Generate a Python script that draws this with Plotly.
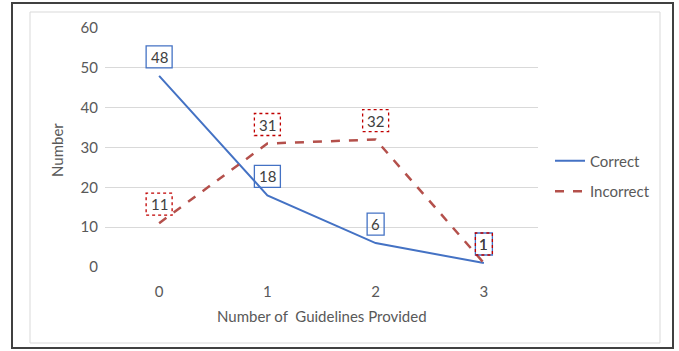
import plotly.graph_objects as go

categories = ["0", "1", "2", "3"]
correct = [48, 18, 6, 1]
incorrect = [11, 31, 32, 1]
y_ticks = [0, 10, 20, 30, 40, 50, 60]

FONT = "Lato, Carlito, Calibri, sans-serif"
GREY = "#595959"
BLUE = "#4472C4"
RED = "#B4504B"
BOXRED = "#C00000"

L, R, T, B = 105, 141, 28, 84
W, H = 679, 351
PW, PH = W - L - R, H - T - B

def px_x(p):
    return (p - L) / PW

def px_y(p):
    return (H - B - p) / PH

fig = go.Figure()
fig.add_trace(go.Scatter(x=categories, y=correct, mode="lines", name="Correct",
                         legendgroup="c", line=dict(color=BLUE, width=2)))
fig.add_trace(go.Scatter(x=categories, y=incorrect, mode="lines", name="Incorrect",
                         legendgroup="i", line=dict(color=RED, width=2.5, dash="dash")))

shapes = []
annotations = []
for series, bcol, dash in [(correct, BLUE, "solid"), (incorrect, BOXRED, "dot")]:
    for c, v in zip(categories, series):
        txt = str(v)
        w = 26 if len(txt) > 1 else 17
        annotations.append(dict(x=c, y=v, xref="x", yref="y", text=txt, showarrow=False,
                                xanchor="center", yanchor="middle",
                                yshift=19, font=dict(family=FONT, size=15, color="#404040")))
        shapes.append(dict(type="rect", xref="x", yref="y", xsizemode="pixel", ysizemode="pixel",
                           xanchor=c, yanchor=v, x0=-w / 2, x1=w / 2, y0=8, y1=30,
                           line=dict(color=bcol, width=1.3, dash=dash), fillcolor="rgba(0,0,0,0)",
                           layer="above"))

# chart area borders
shapes.append(dict(type="rect", xref="paper", yref="paper", x0=px_x(30), x1=px_x(660),
                   y0=px_y(343), y1=px_y(12), line=dict(color="#D9D9D9", width=1), layer="below"))
shapes.append(dict(type="rect", xref="paper", yref="paper", x0=px_x(12), x1=px_x(673),
                   y0=px_y(348), y1=px_y(3), line=dict(color="#404040", width=2), layer="below"))

annotations.append(dict(x=px_x(57), y=px_y(150), xref="paper", yref="paper", text="Number",
                        xanchor="center", yanchor="middle",
                        textangle=-90, showarrow=False, font=dict(family=FONT, size=15, color=GREY)))
annotations.append(dict(x=px_x(322), y=px_y(316), xref="paper", yref="paper",
                        xanchor="center", yanchor="middle",
                        text="Number of  Guidelines Provided", showarrow=False,
                        font=dict(family=FONT, size=15, color=GREY)))

fig.update_layout(
    width=W, height=H,
    margin=dict(l=L, r=R, t=T, b=B),
    paper_bgcolor="white", plot_bgcolor="white",
    font=dict(family=FONT, size=15, color=GREY),
    shapes=shapes, annotations=annotations,
    legend=dict(x=px_x(550), y=px_y(176), xanchor="left", yanchor="middle",
                font=dict(family=FONT, size=15, color=GREY), tracegroupgap=8,
                bgcolor="rgba(0,0,0,0)"),
    xaxis=dict(type="category", range=[-0.5, 3.5], showgrid=False, zeroline=False,
               showline=False, ticks="", ticklabelstandoff=14,
               tickfont=dict(family=FONT, size=15, color=GREY)),
    yaxis=dict(range=[0, 60], tickvals=y_ticks, showgrid=True, gridcolor="#D9D9D9",
               gridwidth=1, zeroline=False, showline=False, ticks="", ticklabelstandoff=6,
               tickfont=dict(family=FONT, size=15, color=GREY)),
)

fig.write_html("out.html", config={"displayModeBar": False},
               post_script="document.body.style.margin='0';")
